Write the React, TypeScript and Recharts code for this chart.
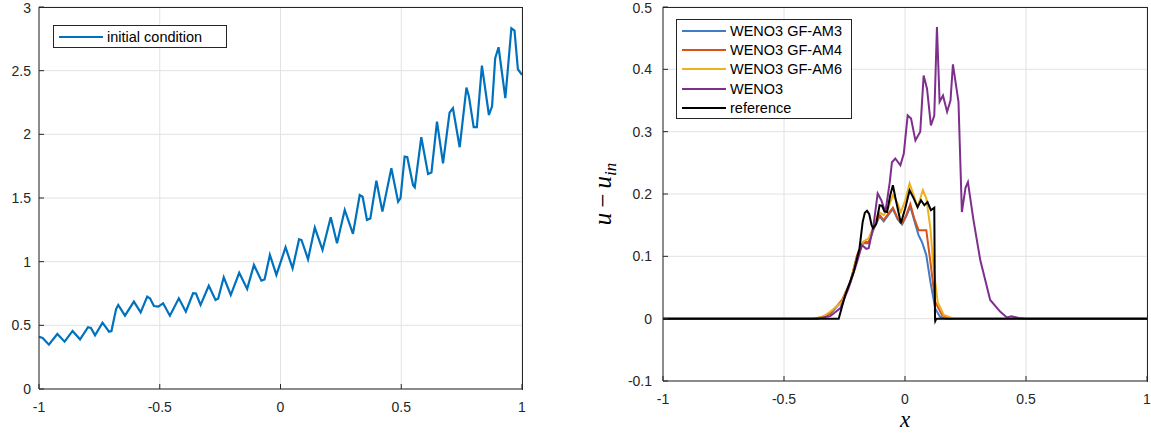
import { CartesianGrid, Legend, Line, LineChart, XAxis, YAxis } from 'recharts'

const xTicks = [-1, -0.5, 0, 0.5, 1]
const icTicksY = [0, 0.5, 1, 1.5, 2, 2.5, 3]
const errTicksY = [-0.1, 0, 0.1, 0.2, 0.3, 0.4, 0.5]

// left panel: initial condition
const icX = [
  -1.0, -0.985, -0.959, -0.924, -0.894, -0.861, -0.83, -0.797, -0.785, -0.768, -0.737, -0.71, -0.7,
  -0.681, -0.672, -0.644, -0.607, -0.579, -0.552, -0.54, -0.524, -0.506, -0.486, -0.458, -0.421,
  -0.392, -0.362, -0.35, -0.331, -0.297, -0.269, -0.258, -0.235, -0.206, -0.171, -0.138, -0.11,
  -0.079, -0.066, -0.044, -0.017, 0.021, 0.05, 0.077, 0.087, 0.114, 0.142, 0.174, 0.208, 0.234,
  0.266, 0.3, 0.328, 0.34, 0.358, 0.372, 0.397, 0.422, 0.459, 0.487, 0.497, 0.514, 0.525, 0.549,
  0.556, 0.583, 0.611, 0.625, 0.648, 0.673, 0.7, 0.714, 0.742, 0.77, 0.78, 0.8, 0.813, 0.834,
  0.863, 0.876, 0.889, 0.903, 0.931, 0.956, 0.969, 0.983, 1.0,
]
const icY = [
  0.41, 0.4, 0.348, 0.432, 0.372, 0.456, 0.39, 0.485, 0.48, 0.422, 0.521, 0.45, 0.455,
  0.626, 0.66, 0.576, 0.686, 0.602, 0.725, 0.71, 0.652, 0.647, 0.673, 0.576, 0.712,
  0.607, 0.752, 0.75, 0.66, 0.811, 0.699, 0.71, 0.877, 0.738, 0.913, 0.786, 0.974,
  0.851, 0.86, 1.053, 0.896, 1.113, 0.948, 1.176, 1.17, 1.019, 1.267, 1.092, 1.349, 1.144,
  1.406, 1.218, 1.524, 1.51, 1.328, 1.34, 1.636, 1.393, 1.734, 1.471, 1.5, 1.825, 1.82, 1.6,
  1.584, 1.977, 1.689, 1.7, 2.1, 1.773, 2.17, 2.205, 1.899, 2.367, 2.3, 2.056, 2.056, 2.54,
  2.152, 2.22, 2.598, 2.684, 2.284, 2.833, 2.815, 2.511, 2.467,
]

// right panel: u - u_in
const am3X = [-1, -0.36, -0.33, -0.309, -0.26, -0.226, -0.198, -0.174, -0.15, -0.13, -0.105, -0.088, -0.068, -0.05, -0.03, -0.012, 0.005, 0.022, 0.038, 0.056, 0.07, 0.088, 0.105, 0.125, 0.145, 0.17, 1]
const am3Y = [0, 0, 0.003, 0.008, 0.028, 0.058, 0.1, 0.121, 0.121, 0.143, 0.164, 0.156, 0.167, 0.176, 0.159, 0.151, 0.164, 0.18, 0.158, 0.134, 0.123, 0.102, 0.059, 0.016, 0.003, 0, 0]

const am4X = [-1, -0.37, -0.34, -0.309, -0.26, -0.226, -0.198, -0.174, -0.15, -0.13, -0.105, -0.088, -0.068, -0.05, -0.03, -0.012, 0.005, 0.022, 0.038, 0.056, 0.088, 0.105, 0.125, 0.153, 0.19, 1]
const am4Y = [0, 0, 0.003, 0.008, 0.03, 0.059, 0.102, 0.123, 0.123, 0.145, 0.166, 0.158, 0.169, 0.178, 0.161, 0.153, 0.166, 0.184, 0.161, 0.142, 0.142, 0.091, 0.027, 0.006, 0, 0]

const am6X = [-1, -0.38, -0.34, -0.309, -0.26, -0.226, -0.198, -0.174, -0.15, -0.13, -0.109, -0.088, -0.068, -0.05, -0.033, -0.017, 0.001, 0.019, 0.036, 0.052, 0.074, 0.088, 0.105, 0.118, 0.135, 0.16, 0.201, 1]
const am6Y = [0, 0, 0.003, 0.011, 0.027, 0.059, 0.097, 0.123, 0.129, 0.147, 0.171, 0.166, 0.179, 0.198, 0.187, 0.171, 0.19, 0.217, 0.198, 0.179, 0.206, 0.193, 0.145, 0.081, 0.027, 0.006, 0, 0]

const wenoX = [-1, -0.38, -0.35, -0.309, -0.267, -0.233, -0.198, -0.178, -0.16, -0.15, -0.13, -0.113, -0.098, -0.081, -0.063, -0.054, -0.04, -0.019, -0.005, 0.011, 0.025, 0.043, 0.063, 0.077, 0.091, 0.107, 0.121, 0.132, 0.143, 0.157, 0.174, 0.188, 0.198, 0.221, 0.235, 0.25, 0.26, 0.283, 0.311, 0.352, 0.394, 0.421, 0.44, 0.47, 0.5, 1]
const wenoY = [0, 0, 0.001, 0.004, 0.017, 0.049, 0.091, 0.118, 0.112, 0.113, 0.15, 0.201, 0.19, 0.171, 0.219, 0.251, 0.257, 0.246, 0.265, 0.326, 0.321, 0.286, 0.3, 0.39, 0.369, 0.31, 0.326, 0.468, 0.348, 0.358, 0.332, 0.35, 0.408, 0.348, 0.171, 0.21, 0.219, 0.158, 0.094, 0.03, 0.011, 0.002, 0.004, 0.001, 0, 0]

const refX = [-1, -0.274, -0.247, -0.212, -0.188, -0.175, -0.166, -0.157, -0.148, -0.138, -0.132, -0.119, -0.105, -0.095, -0.085, -0.074, -0.061, -0.05, -0.036, -0.017, 0.001, 0.019, 0.036, 0.052, 0.066, 0.08, 0.093, 0.107, 0.121, 0.124, 0.125, 0.13, 1]
const refY = [0, 0, 0.038, 0.075, 0.113, 0.155, 0.17, 0.173, 0.168, 0.15, 0.145, 0.152, 0.182, 0.181, 0.172, 0.171, 0.198, 0.214, 0.187, 0.153, 0.177, 0.206, 0.193, 0.179, 0.19, 0.182, 0.187, 0.174, 0.178, 0, -0.004, 0, 0]

const toPts = (xs: number[], ys: number[]) => xs.map((x, i) => ({ x, y: ys[i] }))

const icData = toPts(icX, icY)

const series = [
  { name: 'WENO3 GF-AM3', color: '#3f7cc8', data: toPts(am3X, am3Y) },
  { name: 'WENO3 GF-AM4', color: '#d95319', data: toPts(am4X, am4Y) },
  { name: 'WENO3 GF-AM6', color: '#edb120', data: toPts(am6X, am6Y) },
  { name: 'WENO3', color: '#7e2f8e', data: toPts(wenoX, wenoY) },
  { name: 'reference', color: '#000000', data: toPts(refX, refY) },
]

const axisColor = '#262626'
const gridColor = '#e2e2e2'
const tickStyle = { fontSize: 14, fill: axisColor }

function LegendBox({ items, width }: { items: { name: string; color: string }[]; width: number }) {
  return (
    <div
      style={{
        width,
        border: '1px solid #262626',
        background: '#fff',
        padding: '1px 0',
        fontSize: 14.5,
        color: '#000',
        fontFamily: '"Liberation Sans", Arial, sans-serif',
      }}
    >
      {items.map((it) => (
        <div key={it.name} style={{ display: 'flex', alignItems: 'center', height: 19.3 }}>
          <span style={{ display: 'inline-block', width: 44, height: 2, background: it.color, margin: '0 4px 0 5px' }} />
          <span>{it.name}</span>
        </div>
      ))}
    </div>
  )
}

// top and right edges of the plot box (MATLAB "box on")
function Frame({ left, top, width, height }: { left: number; top: number; width: number; height: number }) {
  return (
    <div
      style={{
        position: 'absolute',
        left,
        top,
        width,
        height,
        borderTop: `1px solid ${axisColor}`,
        borderRight: `1px solid ${axisColor}`,
        pointerEvents: 'none',
        zIndex: 5,
      }}
    />
  )
}

export default function App() {
  return (
    <div
      style={{
        position: 'absolute',
        left: 0,
        top: 0,
        width: 1151,
        height: 438,
        background: '#fff',
        fontFamily: '"Liberation Sans", Arial, sans-serif',
      }}
    >
      <div style={{ position: 'absolute', left: 0, top: 0 }}>
        <LineChart width={540} height={438} margin={{ top: 7, right: 18, bottom: 0, left: 0 }}>
          <CartesianGrid stroke={gridColor} />
          <XAxis
            dataKey='x'
            type='number'
            domain={[-1, 1]}
            ticks={xTicks}
            height={49}
            tickSize={-5}
            tickMargin={18}
            stroke={axisColor}
            tick={tickStyle}
          />
          <YAxis
            type='number'
            domain={[0, 3]}
            ticks={icTicksY}
            width={39}
            tickSize={-5}
            tickMargin={13}
            stroke={axisColor}
            tick={tickStyle}
          />
          <Legend
            layout='vertical'
            align='center'
            verticalAlign='middle'
            wrapperStyle={{ left: 53, top: 25 }}
            content={() => <LegendBox items={[{ name: 'initial condition', color: '#0072bd' }]} width={172} />}
          />
          <Line
            data={icData}
            dataKey='y'
            name='initial condition'
            stroke='#0072bd'
            strokeWidth={2.2}
            dot={false}
            type='linear'
            isAnimationActive={false}
          />
        </LineChart>
      </div>
      <Frame left={39} top={6.5} width={482.5} height={382} />
      <div style={{ position: 'absolute', left: 540, top: 0 }}>
        <LineChart width={611} height={438} margin={{ top: 7, right: 4, bottom: 0, left: 0 }}>
          <CartesianGrid stroke={gridColor} />
          <XAxis
            dataKey='x'
            type='number'
            domain={[-1, 1]}
            ticks={xTicks}
            height={57}
            tickSize={-5}
            tickMargin={18}
            stroke={axisColor}
            tick={tickStyle}
            label={(props: any) => {
              const vb = props.viewBox || { x: 123, width: 484 }
              return (
                <text
                  x={vb.x + vb.width / 2}
                  y={427}
                  textAnchor='middle'
                  fontFamily='"Liberation Serif", serif'
                  fontStyle='italic'
                  fontSize={23}
                  fill='#000'
                >
                  x
                </text>
              )
            }}
          />
          <YAxis
            type='number'
            domain={[-0.1, 0.5]}
            ticks={errTicksY}
            width={123}
            tickSize={-5}
            tickMargin={16}
            stroke={axisColor}
            tick={tickStyle}
            label={() => (
              <text
                x={71}
                y={194}
                transform='rotate(-90, 71, 194)'
                textAnchor='middle'
                fontFamily='"Liberation Serif", serif'
                fontSize={25}
                fill='#000'
              >
                <tspan fontStyle='italic'>u</tspan>
                <tspan>{'\u2009\u2212\u2009'}</tspan>
                <tspan fontStyle='italic'>u</tspan>
                <tspan fontStyle='italic' fontSize={17} dy={5}>in</tspan>
              </text>
            )}
          />
          <Legend
            layout='vertical'
            align='center'
            verticalAlign='middle'
            wrapperStyle={{ left: 136, top: 19 }}
            content={() => <LegendBox items={series} width={174} />}
          />
          {series.map((s) => (
            <Line
              key={s.name}
              data={s.data}
              dataKey='y'
              name={s.name}
              stroke={s.color}
              strokeWidth={2}
              dot={false}
              type='linear'
              isAnimationActive={false}
            />
          ))}
        </LineChart>
      </div>
      <Frame left={663} top={6.5} width={483.5} height={374} />
    </div>
  )
}
